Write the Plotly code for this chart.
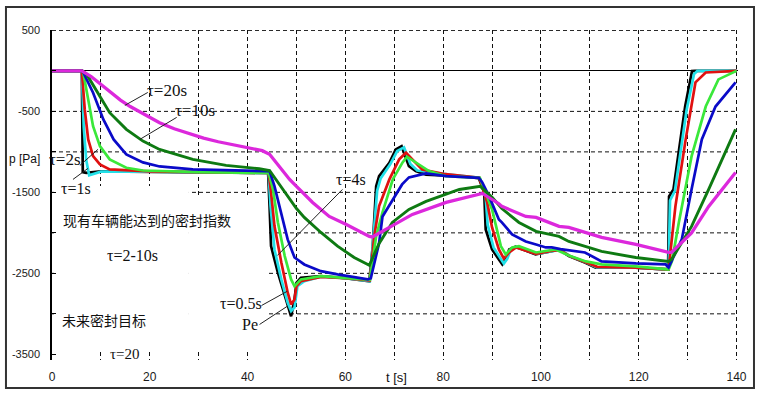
import plotly.graph_objects as go

# ---------------- data ----------------
t_pe = [0, 6.1, 6.3, 7, 10, 20, 30, 44.2, 44.5, 44.8, 46.2, 47.6, 48.6, 48.9, 49.6, 50.0, 50.9, 55, 60, 64.9,
        65.6, 66.3, 66.9, 69.0, 70.3, 71.5, 73.0, 74.4, 76.5, 83.3, 87.3, 88.4, 88.7, 90.0, 91.4, 92.1, 92.8, 93.5,
        94.8, 98.9, 102.2, 103.7, 105.7, 109.1, 111.2, 119.3, 126.0, 126.2, 127.1, 129.5, 130.9, 131.5, 140]
p_pe = [0, 0, -1250, -1260, -1240, -1245, -1250, -1260, -1670, -2164, -2492, -2781, -2986, -3030, -2822, -2616,
        -2554, -2534, -2560, -2596, -2164, -1423, -1299, -1134, -970, -930, -1176, -1237, -1280, -1300, -1325,
        -1500, -1958, -2205, -2328, -2390, -2328, -2205, -2170, -2266, -2225, -2205, -2287, -2369, -2430, -2430,
        -2452, -1550, -1464, -435, -2, 0, 0]

t_05 = [0, 6.1, 6.5, 7.0, 7.6, 8.5, 10, 20, 30, 44.3, 44.7, 45.5, 46.9, 48.2, 48.9, 49.6, 50.2, 51.6, 55, 60, 65.0,
        65.7, 66.5, 67.2, 69.2, 70.6, 72.0, 73.3, 74.7, 80, 87.4, 88.6, 89.1, 90.3, 91.7, 92.4, 93.1, 93.8, 95.1,
        99.1, 102.4, 103.9, 105.9, 109.3, 111.4, 119.4, 126.1, 126.4, 127.4, 129.8, 131.3, 132, 140]
p_05 = [0, 0, -700, -1100, -1290, -1270, -1245, -1245, -1250, -1260, -1670, -2205, -2575, -2860, -2966, -2921,
        -2658, -2596, -2540, -2560, -2596, -2100, -1480, -1330, -1150, -990, -945, -1150, -1230, -1270, -1320,
        -1480, -1900, -2180, -2310, -2380, -2320, -2210, -2175, -2260, -2225, -2205, -2285, -2365, -2425, -2430,
        -2452, -1600, -1480, -480, -40, 0, 0]

t_1 = [0, 6.1, 6.7, 7.4, 8.4, 9.8, 11.8, 20, 30, 44.3, 44.8, 45.5, 46.9, 48.2, 48.9, 49.6, 50.0, 50.9, 55, 60, 65.0,
       65.9, 66.9, 69.0, 71.0, 72.4, 73.7, 75.7, 80, 87.4, 89.0, 90.0, 91.4, 92.4, 93.5, 94.9, 99, 102.4, 104, 106,
       109.3, 111.5, 119.4, 126.1, 126.6, 127.5, 129.6, 131.6, 133.7, 140]
p_1 = [0, 0, -476, -846, -1052, -1155, -1217, -1240, -1250, -1260, -1500, -1916, -2365, -2736, -2884, -2822, -2658,
       -2596, -2545, -2560, -2590, -2040, -1670, -1340, -1093, -1010, -1093, -1217, -1270, -1320, -1624, -1933,
       -2205, -2316, -2242, -2180, -2260, -2220, -2215, -2290, -2365, -2420, -2430, -2452, -2170, -1673, -846,
       -142, -20, 0]

t_2 = [0, 6.1, 6.4, 7.4, 8.4, 9.8, 11.8, 15.2, 18.6, 30, 44.3, 45.2, 46.2, 47.6, 48.9, 49.6, 50.9, 55, 60, 65.0,
       66.3, 67.6, 69.7, 71.7, 72.6, 75, 77.1, 80.5, 87.5, 90.0, 91.8, 92.8, 94.1, 95.5, 99, 103, 105.7, 109.2,
       112.4, 119.4, 126.1, 126.8, 128.2, 130.8, 133.7, 136.3, 139.8, 140]
p_2 = [0, 0, -22, -352, -682, -929, -1093, -1196, -1230, -1250, -1260, -1464, -1871, -2287, -2575, -2658, -2575,
       -2534, -2555, -2580, -2040, -1748, -1340, -1130, -1060, -1150, -1237, -1299, -1320, -1711, -2164, -2266,
       -2180, -2164, -2242, -2205, -2280, -2353, -2390, -2415, -2452, -2350, -1871, -1056, -440, -105, -6, 0]

t_4 = [0, 6.1, 6.4, 8.4, 10.5, 12.6, 15.2, 18.6, 22, 28.8, 43.8, 44.5, 45.5, 46.9, 48.2, 49.6, 51.6, 55, 58.4,
       64.6, 65.2, 66.9, 67.6, 69.6, 71.6, 73.0, 75.1, 76.5, 80.6, 87.3, 88.0, 89.4, 91.4, 92.0, 94.1, 96.9, 99,
       101, 102.2, 104, 109, 112.4, 119.4, 125.5, 126.1, 128.8, 130.8, 132.9, 135.7, 139.8]
p_4 = [0, 0, -20, -270, -600, -846, -1031, -1130, -1180, -1217, -1237, -1237, -1423, -1748, -2081, -2304, -2390,
       -2473, -2513, -2575, -2560, -2124, -1797, -1600, -1402, -1315, -1290, -1265, -1300, -1320, -1377, -1550,
       -1834, -1871, -2019, -2106, -2143, -2180, -2180, -2200, -2242, -2353, -2378, -2390, -2427, -2081, -1464,
       -846, -440, -142]

t_10 = [0, 6.1, 7.1, 9.8, 11.8, 15.2, 18.6, 22, 28.8, 35.6, 42.4, 44.5, 46.5, 48.2, 50, 51.6, 55, 58.4, 61.8, 64.9,
        66.9, 69.6, 73.0, 76.5, 80.6, 83.3, 87.6, 90, 92, 95.5, 99, 103.7, 105.7, 112.4, 119.4, 126.1, 126.7,
        130.8, 134.3, 139.8]
p_10 = [0, 0, -43, -311, -516, -722, -867, -970, -1093, -1167, -1208, -1230, -1400, -1560, -1700, -1809, -1995,
        -2164, -2304, -2400, -2130, -1871, -1711, -1612, -1525, -1464, -1426, -1560, -1700, -1871, -1982, -2044,
        -2106, -2229, -2304, -2353, -2330, -1920, -1464, -723]

t_20 = [0, 6.1, 8, 10, 12, 14, 16, 18, 20, 22, 25, 28, 31, 34, 37, 40, 43, 44.5, 46.5, 48.6, 50, 53.3, 56.7,
        60.2, 64.9, 65.5, 69, 73.7, 80.6, 87.3, 88, 91.4, 92, 96.9, 99, 103.7, 105.7, 112.4, 119.4, 126.1, 126.7,
        130.8, 134.3, 139.8]
p_20 = [0, 0, -70, -170, -270, -360, -440, -510, -580, -640, -715, -775, -830, -875, -915, -950, -985, -1030,
        -1179, -1340, -1426, -1624, -1797, -1896, -2044, -2050, -1933, -1772, -1624, -1525, -1513, -1640, -1673,
        -1797, -1809, -1920, -1933, -2056, -2143, -2242, -2242, -2000, -1673, -1254]

series_names = ["Pe", "τ=0.5s", "τ=1s", "τ=2s", "τ=4s", "τ=10s", "τ=20s"]
series_t = [t_pe, t_05, t_1, t_2, t_4, t_10, t_20]
series_p = [p_pe, p_05, p_1, p_2, p_4, p_10, p_20]
series_colors = ["#000000", "#22e0e8", "#e01010", "#3ae83a", "#0a0ac8", "#0e7a12", "#dc28dc"]
series_widths = [2.7, 2.7, 2.7, 2.7, 2.7, 2.9, 3.3]

x_tickvals = list(range(0, 141, 10))
x_ticktext = ["0", "", "20", "", "40", "", "60", "", "80", "", "100", "", "120", "", "140"]
y_tickvals = [500, 0, -500, -1000, -1500, -2000, -2500, -3000, -3500]
y_ticktext = ["500", "", "-500", "", "-1500", "", "-2500", "", "-3500"]
y_gridvals = [500, -500, -1000, -1500, -2000, -2500, -3000]

# annotation texts and their anchor positions
ann_text = ["τ=20s", "τ=10s", "τ=2s", "τ=1s", "现有车辆能达到的密封指数", "τ=2-10s", "未来密封目标", "τ=20",
            "τ=4s", "τ=0.5s", "Pe"]
ann_t = [23.47, 29.18, 2.7, 4.9, 19.4, 16.5, 10.6, 14.9, 61.2, 38.57, 40.4]
ann_p = [-241, -488, -1093, -1451, -1846, -2279, -3081, -3501, -1340, -2871, -3131]
ann_size = [17, 17, 17, 16, 14, 16, 14, 15, 16, 16, 16]

# leader lines (t0, p0, t1, p1)
leaders = [(19.59, -266, 14.9, -426), (25.5, -574, 17.96, -846), (5.71, -1167, 9.39, -969),
           (4.29, -1340, 7.35, -1204), (59.4, -1464, 46.1, -2279), (42.86, -2897, 48.16, -2720),
           (42.45, -3131, 48.16, -2905)]

# ---------------- figure ----------------
fig = go.Figure()
for name, t, p, c, w in zip(series_names, series_t, series_p, series_colors, series_widths):
    fig.add_trace(go.Scatter(x=t, y=p, mode="lines", name=name, showlegend=False,
                             line=dict(color=c, width=w), hoverinfo="skip"))

serif = "Liberation Serif, Times New Roman, serif"
cjk = "Noto Sans CJK SC"
shapes = []
# horizontal dashed grid
for g in y_gridvals:
    shapes.append(dict(type="line", xref="x", yref="y", x0=0, x1=140, y0=g, y1=g,
                       line=dict(color="#111", width=1, dash="4px,3px"), layer="between"))
# blank areas behind the text block (grid hidden there)
shapes.append(dict(type="rect", xref="x", yref="y", x0=0.4, x1=28, y0=-3440, y1=-1420,
                   fillcolor="white", line=dict(width=0), layer="between"))
shapes.append(dict(type="rect", xref="x", yref="y", x0=28, x1=44.3, y0=-3440, y1=-1560,
                   fillcolor="white", line=dict(width=0), layer="between"))
for (a, b, c, d) in leaders:
    shapes.append(dict(type="line", xref="x", yref="y", x0=a, y0=b, x1=c, y1=d,
                       line=dict(color="#222", width=1)))
# outer frame
shapes.append(dict(type="rect", xref="paper", yref="paper", x0=-0.0671, x1=1.0233, y0=-0.0848, y1=1.0697,
                   line=dict(color="#333", width=2), fillcolor="rgba(0,0,0,0)"))

annotations = []
for txt, t, p, s in zip(ann_text, ann_t, ann_p, ann_size):
    fam = cjk if any(ord(ch) > 0x3000 for ch in txt) else serif
    annotations.append(dict(x=t, y=p, xref="x", yref="y", text=txt, showarrow=False,
                            font=dict(family=fam, size=s, color="#111"), xanchor="center", yanchor="middle"))
annotations.append(dict(x=-0.0408, y=-1093, xref="paper", yref="y", text="p [Pa]", showarrow=False,
                        xanchor="center", yanchor="middle",
                        font=dict(family="Liberation Sans, Arial", size=12, color="#111")))
annotations.append(dict(x=70.4, y=-0.0545, xref="x", yref="paper", text="t [s]", showarrow=False,
                        xanchor="center", yanchor="middle",
                        font=dict(family="Liberation Sans, Arial", size=13, color="#111")))

fig.update_layout(
    width=760, height=405,
    margin=dict(l=52, r=22, t=30, b=45),
    paper_bgcolor="white", plot_bgcolor="white",
    shapes=shapes, annotations=annotations,
    showlegend=False,
    xaxis=dict(range=[0, 140.3], tickvals=x_tickvals, ticktext=x_ticktext, showgrid=True,
               gridcolor="#111", griddash="4px,3px", gridwidth=1, showline=False, zeroline=False,
               ticks="", tickfont=dict(family="Liberation Sans, Arial", size=12, color="#1a1a1a"),
               ticklabelstandoff=8),
    yaxis=dict(range=[-3570, 505], tickvals=y_tickvals, ticktext=y_ticktext, showgrid=False,
               zeroline=True, zerolinecolor="#000",
               zerolinewidth=1.3, showline=True, linecolor="#000", linewidth=1.5, ticks="inside",
               ticklen=4, tickcolor="#000",
               tickfont=dict(family="Liberation Sans, Arial", size=11, color="#1a1a1a"),
               ticklabelstandoff=8),
)

fig.write_html("out.html")
